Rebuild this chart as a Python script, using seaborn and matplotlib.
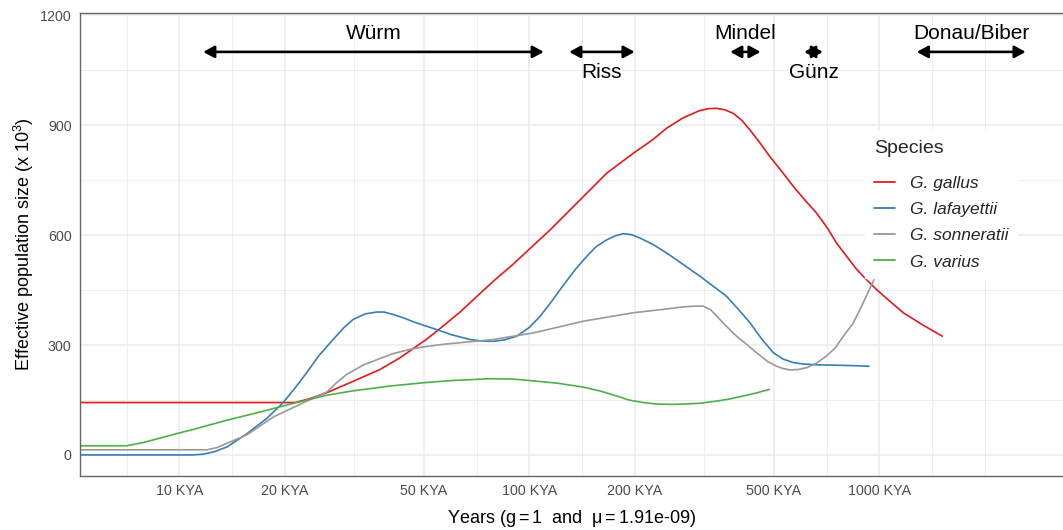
import pandas as pd
import matplotlib
matplotlib.use("Agg")
import matplotlib.pyplot as plt
from matplotlib.ticker import NullFormatter
import seaborn as sns

# Species and colours
species = ["G. gallus", "G. lafayettii", "G. sonneratii", "G. varius"]
colors = ["#E41A1C", "#377EB8", "#999999", "#4DAF4A"]

# Effective population size (x 10^3), years in KYA
gallus_kya = [5.24, 21.4, 23.5, 26.4, 31.4, 37.4, 42.7, 50.9, 55.6, 63.4, 70.7, 78.9, 90.0,
              114.6, 139.6, 166.4, 198, 225, 247, 275, 307, 325, 343, 362, 383, 405, 427,
              455, 487, 525, 568, 610, 662, 710, 755, 810, 862, 920, 983, 1070, 1171, 1330, 1514]
gallus_ne = [143, 143, 153, 170, 201, 233, 265, 316, 345, 390, 432, 474, 521,
             614, 696, 769, 823, 860, 892, 920, 940, 945, 946, 942, 932, 913, 887,
             853, 814, 775, 733, 698, 660, 620, 578, 540, 506, 478, 451, 420, 388, 355, 324]

lafayettii_kya = [5.24, 10.9, 11.7, 12.6, 13.7, 15.6, 17.8, 19.8, 21.5, 23.1, 25.0, 27.5, 29.5,
                  31.4, 34.0, 36.6, 38.5, 40.9, 44.0, 47.0, 54.4, 60, 67.7, 73, 78.9, 85, 92,
                  100, 107.3, 115, 122.4, 135, 145.9, 155, 166.4, 176, 185.6, 196, 207, 225,
                  247, 275, 307, 336, 366, 395, 427, 460, 498, 530, 568, 610, 662, 825, 935]
lafayettii_ne = [0, 0, 2, 9, 22, 58, 100, 143, 185, 224, 270, 315, 347,
                 370, 385, 390, 390, 383, 373, 362, 342, 328, 315, 311, 310, 314, 324,
                 348, 378, 415, 451, 505, 542, 568, 587, 598, 604, 601, 592, 575,
                 551, 520, 488, 460, 433, 398, 361, 318, 279, 262, 252, 248, 246, 244, 242]

sonneratii_kya = [5.24, 12.0, 12.8, 13.7, 15.6, 18.6, 22.1, 26.4, 28.2, 30.1, 33.5, 37.4, 41,
                  45.6, 50, 56.8, 78.9, 102.7, 142.7, 198, 240, 275, 295, 314, 330, 343, 365,
                  391, 420, 446, 480, 509, 530, 556, 585, 620, 660, 707, 750, 789, 840, 881,
                  920, 966]
sonneratii_ne = [14, 14, 20, 32, 55, 104, 138, 172, 198, 220, 245, 263, 277,
                 288, 295, 302, 315, 333, 365, 388, 397, 404, 406, 406, 396, 379, 352,
                 324, 300, 279, 255, 242, 236, 232, 233, 238, 250, 270, 293, 324, 358, 397,
                 435, 479]

varius_kya = [5.24, 7.07, 7.9, 8.81, 9.8, 11.0, 13.7, 17.0, 21.2, 26.4, 31.4, 40, 49.8, 60,
              77.2, 90, 102.7, 120, 142.7, 160, 177.7, 192, 211.7, 230, 258, 280, 307, 343,
              375, 409, 445, 485]
varius_ne = [25, 25, 34, 46, 58, 70, 95, 117, 141, 163, 175, 188, 197, 203,
             208, 207, 202, 196, 185, 174, 161, 150, 143, 139, 138, 139, 141, 147,
             153, 161, 169, 179]

# Glacial periods (KYA)
era_names = ["Würm", "Riss", "Mindel", "Günz", "Donau/Biber"]
era_start_kya = [11.7, 130, 375, 610, 1280]
era_end_kya = [110, 200, 458, 690, 2620]
era_label_ne = [1150, 1045, 1150, 1045, 1150]
arrow_ne = 1100

# Axis ticks
x_breaks_kya = [10, 20, 50, 100, 200, 500, 1000]
x_labels = ["10 KYA", "20 KYA", "50 KYA", "100 KYA", "200 KYA", "500 KYA", "1000 KYA"]
x_minor_kya = [7.071, 14.142, 31.623, 70.711, 141.421, 316.228, 707.107, 1414.214, 2000]
y_breaks = [0, 300, 600, 900, 1200]
y_minor = [150, 450, 750, 1050]

frames = []
for name, kya, ne in [(species[0], gallus_kya, gallus_ne),
                      (species[1], lafayettii_kya, lafayettii_ne),
                      (species[2], sonneratii_kya, sonneratii_ne),
                      (species[3], varius_kya, varius_ne)]:
    frames.append(pd.DataFrame({"year": [k * 1000 for k in kya], "ne": ne, "Species": name}))
df = pd.concat(frames, ignore_index=True)

sns.set_style("white")
plt.rcParams["font.family"] = ["Liberation Sans", "DejaVu Sans"]
plt.rcParams["mathtext.fontset"] = "custom"
plt.rcParams["mathtext.rm"] = "Liberation Sans"
plt.rcParams["mathtext.it"] = "Liberation Sans:italic"
plt.rcParams["mathtext.default"] = "regular"

fig = plt.figure(figsize=(10.63, 5.30), dpi=100)
ax = fig.add_axes([80 / 1063, 1 - 476 / 530, 1 - 80 / 1063, (476 - 12.5) / 530])

sns.lineplot(data=df, x="year", y="ne", hue="Species", hue_order=species,
             palette=dict(zip(species, colors)), estimator=None, errorbar=None,
             sort=False, linewidth=1.2, ax=ax)

ax.set_xscale("log")
ax.set_xlim(5202, 3.349e6)
ax.set_ylim(-57.5, 1207.5)

ax.set_xticks([k * 1000 for k in x_breaks_kya])
ax.set_xticklabels(x_labels)
ax.set_xticks([k * 1000 for k in x_minor_kya], minor=True)
ax.xaxis.set_minor_formatter(NullFormatter())
ax.set_yticks(y_breaks)
ax.set_yticks(y_minor, minor=True)

ax.grid(which="major", color="#EBEBEB", linewidth=1.1)
ax.grid(which="minor", color="#EBEBEB", linewidth=0.6)
ax.set_axisbelow(True)

ax.tick_params(which="major", length=3.5, width=0.9, color="#555555",
               labelcolor="#4D4D4D", labelsize=10.3, pad=2.5)
ax.tick_params(which="minor", length=0)
for side in ["left", "bottom", "top"]:
    ax.spines[side].set_color("#666666")
    ax.spines[side].set_linewidth(1.0)
ax.spines["right"].set_visible(False)

# glacial period arrows
for name, s, e, ly in zip(era_names, era_start_kya, era_end_kya, era_label_ne):
    ax.annotate("", xy=(e * 1000, arrow_ne), xytext=(s * 1000, arrow_ne),
                arrowprops=dict(arrowstyle="<|-|>,head_length=0.55,head_width=0.3",
                                mutation_scale=12, lw=1.9, color="black",
                                shrinkA=0, shrinkB=0))
    ax.text((s * e) ** 0.5 * 1000, ly, name, ha="center", va="center", fontsize=15, color="black")

ax.set_xlabel(r"Years $\left(g = 1\ \ \mathrm{and}\ \ \mu = 1.91e\text{-}09\right)$",
              fontsize=13, color="black", labelpad=7)
ax.set_ylabel(r"Effective population size (x 10$^3$)", fontsize=13, color="black", labelpad=3)

handles, labels = ax.get_legend_handles_labels()
leg = ax.legend(handles, labels, title="Species", loc="upper left",
                bbox_to_anchor=(865 / 1063, 1 - 131 / 530), bbox_transform=fig.transFigure,
                prop={"style": "italic", "size": 12.5}, title_fontsize=14,
                frameon=True, facecolor="white", edgecolor="white", framealpha=1,
                fancybox=False, borderpad=0.5, handlelength=1.25, handletextpad=0.85,
                labelspacing=0.63, borderaxespad=0, alignment="left")
leg._legend_box.sep = 14
for line in leg.get_lines():
    line.set_linewidth(1.3)

fig.savefig("out.png", dpi=100)
